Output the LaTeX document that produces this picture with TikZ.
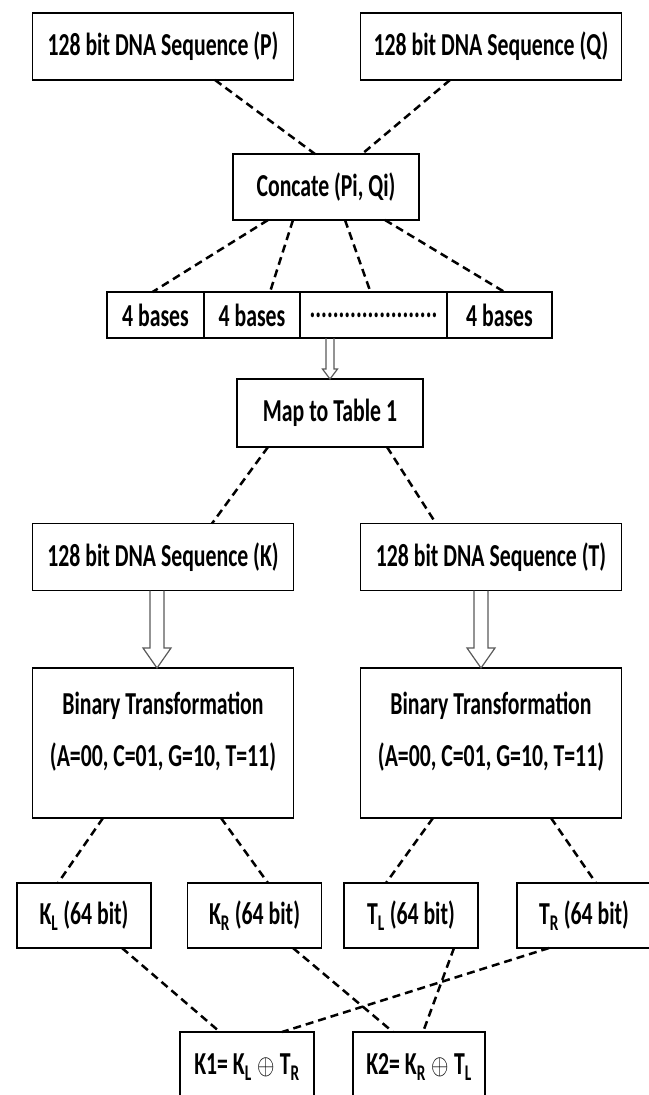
\documentclass[tikz,border=0pt]{standalone}
\usepackage{fontspec}
\setmainfont{Carlito}[FakeStretch=0.68]
\usepackage{graphicx}
\usetikzlibrary{calc}

% outlined block arrow: tail, tip, half shaft, half head, head length
\newcommand{\hollowarrow}[5]{%
    \draw[blockline] ($(#1)+(-#3,0)$) -- ($(#2)+(-#3,-#5)$) -- ($(#2)+(-#4,-#5)$)
        -- (#2) -- ($(#2)+(#4,-#5)$) -- ($(#2)+(#3,-#5)$) -- ($(#1)+(#3,0)$);}

\newcommand{\xorsign}{\,\scalebox{0.9}[1.15]{$\oplus$}\,}

\begin{document}
\begin{tikzpicture}[x=1pt, y=-1pt, node distance=186pt,
        box/.style={draw, line width=1.9pt, inner sep=0pt, outer sep=0pt, align=center,
            font=\fontsize{32}{38}\selectfont\bfseries},
        seqbox/.style={box, minimum width=261pt, minimum height=67pt},
        cellbox/.style={box, minimum height=46pt, anchor=west},
        halfbox/.style={box, minimum width=134pt, minimum height=65pt},
        link/.style={line width=2.5pt, dash pattern=on 8pt off 5pt},
        blockline/.style={draw=black!65, line width=1.2pt}]
        
        \useasboundingbox (0,0) rectangle (648,1095);
        
        \node[seqbox] (pseq) at (163,46.5) {128 bit DNA Sequence (P)};
        \node[seqbox] (qseq) at (491,46.5) {128 bit DNA Sequence (Q)};
        \node[box, minimum width=186pt, minimum height=66pt] (concat) at (326,187) {Concate (Pi, Qi)};
        
        \node[cellbox, minimum width=97pt] (cella) at (107,315) {4 bases};
        \node[cellbox, minimum width=96pt] (cellb) at (cella.east) {4 bases};
        \node[cellbox, minimum width=147pt] (cellc) at (cellb.east) {......................};
        \node[cellbox, minimum width=105pt] (celld) at (cellc.east) {4 bases};
        
        \node[box, minimum width=186pt, minimum height=68pt] (map) at (330,413) {Map to Table 1};
        
        \node[seqbox] (kseq) at (163,557) {128 bit DNA Sequence (K)};
        \node[seqbox] (tseq) at (491,557) {128 bit DNA Sequence (T)};
        \node[seqbox, minimum height=150pt] (kbin) [below of=kseq]
            {Binary Transformation\\[14pt](A=00, C=01, G=10, T=11)\\[-10pt]\mbox{}};
        \node[seqbox, minimum height=150pt] (tbin) [below of=tseq]
            {Binary Transformation\\[14pt](A=00, C=01, G=10, T=11)\\[-10pt]\mbox{}};
        
        \node[halfbox] (kl) at (84,915.5) {K\textsubscript{L} (64 bit)};
        \node[halfbox] (kr) at (254.5,915.5) {K\textsubscript{R} (64 bit)};
        \node[halfbox] (tl) at (411,915.5) {T\textsubscript{L} (64 bit)};
        \node[halfbox] (tr) at (584,915.5) {T\textsubscript{R} (64 bit)};
        
        \node[halfbox, minimum height=70pt] (kone) at (247,1067) {K1= K\textsubscript{L}\xorsign T\textsubscript{R}};
        \node[halfbox, minimum width=132pt, minimum height=70pt] (ktwo) at (419,1067) {K2= K\textsubscript{R}\xorsign T\textsubscript{L}};
        
        % dashed links
        \draw[link] ([xshift=52pt]pseq.south) -- ([xshift=-11pt]concat.north);
        \draw[link] ([xshift=-41pt]qseq.south) -- ([xshift=36pt]concat.north);
        \draw[link] ([xshift=-58pt]concat.south) -- ([xshift=-3pt]cella.north);
        \draw[link] ([xshift=-33pt]concat.south) -- ([xshift=18pt]cellb.north);
        \draw[link] ([xshift=19pt]concat.south) -- ([xshift=-3pt]cellc.north);
        \draw[link] ([xshift=59pt]concat.south) -- ([xshift=5pt]celld.north);
        \draw[link] ([xshift=-62pt]map.south) -- ([xshift=49pt]kseq.north);
        \draw[link] ([xshift=57pt]map.south) -- ([xshift=-55pt]tseq.north);
        \draw[link] ([xshift=-60pt]kbin.south) -- ([xshift=-26pt]kl.north);
        \draw[link] ([xshift=58pt]kbin.south) -- ([xshift=13.5pt]kr.north);
        \draw[link] ([xshift=-58pt]tbin.south) -- ([xshift=-25pt]tl.north);
        \draw[link] ([xshift=60pt]tbin.south) -- ([xshift=12pt]tr.north);
        \draw[link] ([xshift=38pt]kl.south) -- ([xshift=-27pt]kone.north);
        \draw[link] ([xshift=-35pt]tr.south) -- ([xshift=35pt]kone.north);
        \draw[link] ([xshift=38.5pt]kr.south) -- ([xshift=-26pt]ktwo.north);
        \draw[link] ([xshift=43pt]tl.south) -- ([xshift=4pt]ktwo.north);
        
        % block arrows
        \coordinate (rowtail) at (map.north |- cellc.south);
        \hollowarrow{rowtail}{map.north}{4}{7.5}{10}
        \coordinate (ktail) at ([xshift=-6pt]kseq.south);
        \coordinate (khead) at (ktail |- kbin.north);
        \hollowarrow{ktail}{khead}{7}{14}{20}
        \coordinate (ttail) at ([xshift=-10pt]tseq.south);
        \coordinate (thead) at (ttail |- tbin.north);
        \hollowarrow{ttail}{thead}{7}{14}{20}
        
\end{tikzpicture}
\end{document}
